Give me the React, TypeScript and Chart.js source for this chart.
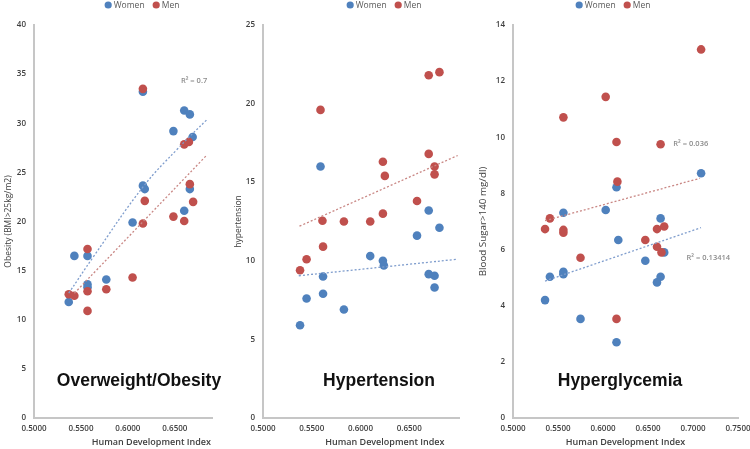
import React, { useEffect, useRef } from "react";
import { Chart, registerables } from "chart.js";

Chart.register(...registerables);

// ---------- Data: Overweight / Obesity ----------
const obWomenX = [0.537, 0.543, 0.557, 0.557, 0.557, 0.577, 0.605, 0.616, 0.616, 0.618, 0.6485, 0.66, 0.66, 0.666, 0.666, 0.669];
const obWomenY = [11.8, 16.5, 16.5, 13.6, 13.3, 14.1, 19.9, 33.2, 23.65, 23.3, 29.2, 31.3, 21.1, 30.9, 23.3, 28.6];
const obMenX = [0.537, 0.543, 0.557, 0.557, 0.557, 0.577, 0.605, 0.616, 0.618, 0.616, 0.6485, 0.66, 0.66, 0.665, 0.666, 0.6695];
const obMenY = [12.6, 12.45, 17.2, 12.9, 10.9, 13.1, 14.3, 33.5, 22.1, 19.8, 20.5, 27.85, 20.05, 28.1, 23.8, 22.0];
const obTrendWomenX = [0.537, 0.5639, 0.6164, 0.653, 0.6845];
const obTrendWomenY = [12.7, 16.5, 23.55, 27.4, 30.4];
const obTrendMenX = [0.543, 0.6845];
const obTrendMenY = [12.7, 26.8];

// ---------- Data: Hypertension ----------
const htWomenX = [0.559, 0.67, 0.681, 0.658, 0.61, 0.623, 0.624, 0.5616, 0.67, 0.676, 0.676, 0.5447, 0.5616, 0.583, 0.538];
const htWomenY = [16.0, 13.2, 12.1, 11.6, 10.3, 10.0, 9.7, 9.0, 9.15, 9.05, 8.3, 7.6, 7.9, 6.9, 5.9];
const htMenX = [0.67, 0.681, 0.559, 0.67, 0.623, 0.676, 0.625, 0.676, 0.658, 0.561, 0.583, 0.61, 0.623, 0.5616, 0.5447, 0.538];
const htMenY = [21.8, 22.0, 19.6, 16.8, 16.3, 16.0, 15.4, 15.5, 13.8, 12.55, 12.5, 12.5, 13.0, 10.9, 10.1, 9.4];
const htTrendWomenX = [0.5367, 0.6997];
const htTrendWomenY = [9.05, 10.1];
const htTrendMenX = [0.5374, 0.6997];
const htTrendMenY = [12.2, 16.7];

// ---------- Data: Hyperglycemia ----------
const bsWomenX = [0.709, 0.615, 0.556, 0.603, 0.664, 0.617, 0.668, 0.647, 0.556, 0.556, 0.541, 0.664, 0.66, 0.5356, 0.575, 0.615];
const bsWomenY = [8.72, 8.22, 7.31, 7.41, 7.11, 6.34, 5.9, 5.6, 5.21, 5.12, 5.03, 5.03, 4.83, 4.2, 3.53, 2.7];
const bsMenX = [0.709, 0.603, 0.556, 0.615, 0.664, 0.616, 0.541, 0.5356, 0.556, 0.556, 0.66, 0.668, 0.647, 0.66, 0.665, 0.575, 0.615];
const bsMenY = [13.13, 11.44, 10.71, 9.83, 9.75, 8.42, 7.11, 6.73, 6.7, 6.6, 6.73, 6.82, 6.34, 6.1, 5.9, 5.71, 3.53];
const bsTrendWomenX = [0.5356, 0.7089];
const bsTrendWomenY = [4.88, 6.78];
const bsTrendMenX = [0.5356, 0.7078];
const bsTrendMenY = [7.03, 8.54];

// ---------- Labels ----------
const seriesLabels = ["Women", "Men"];
const xTitle = "Human Development Index";
const panelTitles = ["Overweight/Obesity", "Hypertension", "Hyperglycemia"];
const yTitles = ["Obesity (BMI>25kg/m2)", "hypertension", "Blood Sugar>140 mg/dl)"];
const r2Texts = [["R\u00B2 = 0.7"], [], ["R\u00B2 = 0.036", "R\u00B2 = 0.13414"]];
const r2X = [[0.6705], [], [0.6975, 0.717]];
const r2Y = [[34.3], [], [9.76, 5.69]];
const yMaxes = [40, 25, 14];
const ySteps = [5, 5, 2];

// ---------- Styles ----------
const BLUE = "#4F81BD";
const RED = "#C0504D";
const BLUE_T = "#7F9DCD";
const RED_T = "#C98784";
const AXIS = "#C6C6C6";
const TEXT = "#404040";
const FONT = "'Open Sans', 'DejaVu Sans', sans-serif";

const toPts = (xs: number[], ys: number[]) => xs.map((x, i) => ({ x, y: ys[i] }));

const miniLegend = {
  id: "miniLegend",
  afterDraw(chart: any, _args: any, opts: any) {
    const ctx = chart.ctx as CanvasRenderingContext2D;
    const items = chart.data.datasets.filter((d: any) => !d.showLine);
    ctx.save();
    ctx.font = `${opts.size}px ${FONT}`;
    ctx.textBaseline = "middle";
    const r = 3.6, gap = 2, sep = 8;
    const widths = items.map((d: any) => 2 * r + gap + ctx.measureText(d.label).width);
    const total = widths.reduce((a: number, b: number) => a + b, 0) + sep * (items.length - 1);
    let x = opts.cx - total / 2;
    items.forEach((d: any, i: number) => {
      ctx.fillStyle = d.backgroundColor;
      ctx.beginPath();
      ctx.arc(x + r, opts.y, r, 0, Math.PI * 2);
      ctx.fill();
      ctx.fillStyle = "#595959";
      ctx.textAlign = "left";
      ctx.fillText(d.label, x + 2 * r + gap, opts.y + 0.5);
      x += widths[i] + sep;
    });
    ctx.restore();
  },
};

const r2Labels = {
  id: "r2Labels",
  afterDatasetsDraw(chart: any, _args: any, opts: any) {
    const ctx = chart.ctx as CanvasRenderingContext2D;
    const { x: xs, y: ys } = chart.scales;
    ctx.save();
    ctx.font = `600 7.5px ${FONT}`;
    ctx.fillStyle = "#8C8C8C";
    ctx.textAlign = "center";
    ctx.textBaseline = "middle";
    (opts.texts || []).forEach((t: string, i: number) => {
      ctx.fillText(t, xs.getPixelForValue(opts.xs[i]), ys.getPixelForValue(opts.ys[i]));
    });
    ctx.restore();
  },
};

type PanelCfg = {
  idx: number;
  left: number;
  width: number;
  padLeft: number;
  padRight: number;
  yWidth: number;
  titlePad: number;
  titleSize: number;
  legendCx: number;
  hideAbove: number;
  womenX: number[];
  womenY: number[];
  menX: number[];
  menY: number[];
  twX: number[];
  twY: number[];
  tmX: number[];
  tmY: number[];
};

const PANELS: PanelCfg[] = [
  { idx: 0, left: 0, width: 273, padLeft: 0, padRight: 0, yWidth: 34, titlePad: 3, titleSize: 8.5, legendCx: 142, hideAbove: 0.66,
    womenX: obWomenX, womenY: obWomenY, menX: obMenX, menY: obMenY, twX: obTrendWomenX, twY: obTrendWomenY, tmX: obTrendMenX, tmY: obTrendMenY },
  { idx: 1, left: 213, width: 298, padLeft: 20, padRight: 0, yWidth: 30, titlePad: 0, titleSize: 8.5, legendCx: 171, hideAbove: 0.66,
    womenX: htWomenX, womenY: htWomenY, menX: htMenX, menY: htMenY, twX: htTrendWomenX, twY: htTrendWomenY, tmX: htTrendMenX, tmY: htTrendMenY },
  { idx: 2, left: 460, width: 290, padLeft: 17, padRight: 12, yWidth: 36, titlePad: 0, titleSize: 9.8, legendCx: 153, hideAbove: 1,
    womenX: bsWomenX, womenY: bsWomenY, menX: bsMenX, menY: bsMenY, twX: bsTrendWomenX, twY: bsTrendWomenY, tmX: bsTrendMenX, tmY: bsTrendMenY },
];

const titleCenters = [139, 379, 620];

function PanelChart({ p }: { p: PanelCfg }) {
  const ref = useRef<HTMLCanvasElement>(null);
  useEffect(() => {
    if (!ref.current) return;
    const pointDs = (label: string, xs: number[], ys: number[], color: string, order: number) => ({
      label,
      data: toPts(xs, ys),
      backgroundColor: color,
      borderColor: color,
      pointRadius: 4.3,
      pointHoverRadius: 4.3,
      pointBorderWidth: 0,
      showLine: false,
      order,
    });
    const trendDs = (label: string, xs: number[], ys: number[], color: string) => ({
      label,
      data: toPts(xs, ys),
      showLine: true,
      borderColor: color,
      backgroundColor: color,
      borderWidth: 1.3,
      borderDash: [2, 2],
      pointRadius: 0,
      tension: 0.4,
      fill: false,
      order: 0,
    });
    const chart = new Chart(ref.current, {
      type: "scatter",
      data: {
        datasets: [
          pointDs(seriesLabels[0], p.womenX, p.womenY, BLUE, 2),
          pointDs(seriesLabels[1], p.menX, p.menY, RED, 1),
          trendDs("Trend women", p.twX, p.twY, BLUE_T),
          trendDs("Trend men", p.tmX, p.tmY, RED_T),
        ] as any,
      },
      options: {
        animation: false,
        responsive: false,
        maintainAspectRatio: false,
        events: [],
        layout: { padding: { top: 25, left: p.padLeft, right: p.padRight, bottom: 0 } },
        plugins: {
          legend: { display: false },
          tooltip: { enabled: false },
          miniLegend: { cx: p.legendCx, y: 5, size: 8.5 },
          r2Labels: { texts: r2Texts[p.idx], xs: r2X[p.idx], ys: r2Y[p.idx] },
        } as any,
        scales: {
          x: {
            type: "linear",
            min: 0.5,
            max: 0.75,
            afterFit: (s: any) => {
              s.height = 31;
              s.paddingLeft = 0;
              s.paddingRight = 0;
            },
            ticks: {
              stepSize: 0.05,
              autoSkip: false,
              maxRotation: 0,
              padding: 6,
              color: TEXT,
              font: { family: FONT, size: 8, weight: "600" },
              callback: (v: any) => (Number(v) > p.hideAbove ? "" : Number(v).toFixed(4)),
            },
            grid: { display: false, drawTicks: false },
            border: { display: true, color: AXIS, width: 2 },
            title: {
              display: true,
              text: xTitle,
              color: TEXT,
              font: { family: FONT, size: 9, weight: "600" },
              padding: { top: 0, bottom: 1.5 },
            },
          },
          y: {
            type: "linear",
            min: 0,
            max: yMaxes[p.idx],
            afterFit: (s: any) => {
              s.width = p.yWidth;
              s.paddingTop = 0;
              s.paddingBottom = 0;
            },
            ticks: {
              stepSize: ySteps[p.idx],
              padding: 8,
              color: TEXT,
              font: { family: FONT, size: 8, weight: "600" },
            },
            grid: { display: false, drawTicks: false },
            border: { display: true, color: AXIS, width: 2 },
            title: {
              display: true,
              text: yTitles[p.idx],
              color: TEXT,
              font: { family: FONT, size: p.titleSize },
              padding: { top: p.titlePad, bottom: 0 },
            },
          },
        },
      } as any,
      plugins: [miniLegend, r2Labels],
    });
    return () => chart.destroy();
  }, [p]);
  return <canvas ref={ref} width={p.width} height={449} style={{ display: "block", width: p.width, height: 449 }} />;
}

export default function App() {
  return (
    <div style={{ position: "fixed", left: 0, top: 0, width: 750, height: 449, background: "#fff", overflow: "hidden" }}>
      {PANELS.map((p) => (
        <div key={p.idx} style={{ position: "absolute", left: p.left, top: 0, width: p.width, height: 449, background: "#fff" }}>
          <PanelChart p={p} />
        </div>
      ))}
      {panelTitles.map((t, i) => (
        <div
          key={t}
          style={{
            position: "absolute",
            left: titleCenters[i],
            top: 380,
            transform: "translate(-50%, -50%)",
            font: "bold 17.5px 'Liberation Sans', Arial, sans-serif",
            lineHeight: "20px",
            color: "#111",
            whiteSpace: "nowrap",
          }}
        >
          {t}
        </div>
      ))}
    </div>
  );
}
